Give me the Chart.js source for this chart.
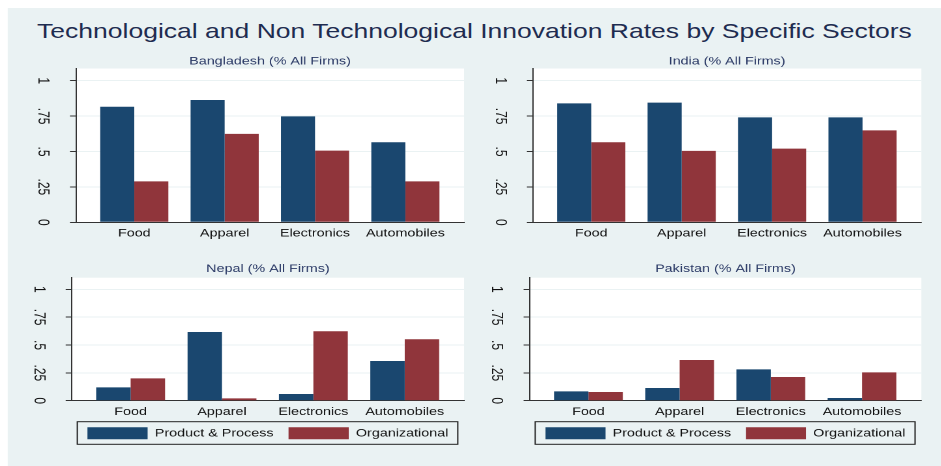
<!DOCTYPE html>
<html>
<head>
<meta charset="utf-8">
<script src="https://cdn.jsdelivr.net/npm/chart.js@4.4.1/dist/chart.umd.min.js"></script>
<style>
  html, body { margin: 0; padding: 0; background: #ffffff; width: 941px; height: 466px; overflow: hidden; }
  #wrap { position: absolute; left: 0; top: 0; width: 723.85px; height: 466px; transform: scaleX(1.3); transform-origin: 0 0; }
  #bg { position: absolute; left: 6.15px; top: 8px; width: 717.7px; height: 458px; background: #eaf2f3; }
  #title { position: absolute; left: 6.15px; top: 20.7px; width: 717.7px; text-align: center; white-space: nowrap;
           font: 20.4px/20px 'Liberation Sans', Arial, sans-serif; color: #1e2c50; }
  .panel { position: absolute; }
</style>
</head>
<body>
<div id="wrap">
  <div id="bg"></div>
  <div id="title">Technological and Non Technological Innovation Rates by Specific Sectors</div>
  <div class="panel" id="p0"><canvas id="c0"></canvas></div>
  <div class="panel" id="p1"><canvas id="c1"></canvas></div>
  <div class="panel" id="p2"><canvas id="c2"></canvas></div>
  <div class="panel" id="p3"><canvas id="c3"></canvas></div>
</div>
<script>
// ---------- data ----------
const categories = ['Food', 'Apparel', 'Electronics', 'Automobiles'];
const seriesNames = ['Product & Process', 'Organizational'];
const panelTitles = ['Bangladesh (% All Firms)', 'India (% All Firms)', 'Nepal (% All Firms)', 'Pakistan (% All Firms)'];

const bangladeshProduct = [0.816, 0.864, 0.748, 0.565];
const bangladeshOrg     = [0.289, 0.624, 0.506, 0.289];
const indiaProduct      = [0.840, 0.845, 0.741, 0.741];
const indiaOrg          = [0.565, 0.504, 0.520, 0.649];
const nepalProduct      = [0.120, 0.617, 0.060, 0.356];
const nepalOrg          = [0.200, 0.021, 0.623, 0.551];
const pakistanProduct   = [0.084, 0.114, 0.281, 0.024];
const pakistanOrg       = [0.078, 0.365, 0.213, 0.254];

const yTickValues = [0, 0.25, 0.5, 0.75, 1];
const yTickLabels = ['0', '.25', '.5', '.75', '1'];

// ---------- layout (page px; horizontal stretch S) ----------
const S = 1.3;
const NAVY = '#1a476f', MAROON = '#90353b', AXIS = '#333333';
const LEG_PAD = 11.5;
Chart.defaults.font.family = "'Liberation Sans', Arial, sans-serif";

const panels = [
  { id: 0, box: [8, 48, 470, 250],  plotL: 76,    plotR: 463,   yMax: 1.086, tPad: [6.9, 0.4], xH: 27.7, legend: false,
    title: panelTitles[0], a: bangladeshProduct, b: bangladeshOrg },
  { id: 1, box: [470, 48, 941, 250], plotL: 532.3, plotR: 920.7, yMax: 1.086, tPad: [6.9, 0.4], xH: 27.7, legend: false,
    title: panelTitles[1], a: indiaProduct, b: indiaOrg },
  { id: 2, box: [8, 253, 470, 466],  plotL: 71.7,  plotR: 463,   yMax: 1.104, tPad: [9.4, 2.1], xH: 15.1, legend: true,
    title: panelTitles[2], a: nepalProduct, b: nepalOrg },
  { id: 3, box: [470, 253, 941, 466], plotL: 529,  plotR: 920.7, yMax: 1.104, tPad: [9.4, 2.1], xH: 15.1, legend: true,
    title: panelTitles[3], a: pakistanProduct, b: pakistanOrg }
];

const plotBg = {
  id: 'plotBg',
  beforeDraw(chart) {
    const { ctx, chartArea: ca } = chart;
    ctx.save();
    ctx.fillStyle = '#ffffff';
    ctx.fillRect(ca.left, ca.top, ca.right - ca.left, ca.bottom - ca.top);
    ctx.restore();
  }
};

const legendFrame = {
  id: 'legendFrame',
  afterDraw(chart) {
    const lg = chart.legend;
    if (!lg || !lg.options.display) return;
    const ca = chart.chartArea, ctx = chart.ctx;
    const x0 = ca.left + 4.3, x1 = ca.right - 4.85;
    const y0 = lg.top + lg.options.labels.padding - 5.6;
    ctx.save();
    ctx.strokeStyle = '#222';
    ctx.lineWidth = 1;
    ctx.strokeRect(x0, y0, x1 - x0, 22.6);
    ctx.restore();
  }
};

panels.forEach(p => {
  const div = document.getElementById('p' + p.id);
  div.style.left = (p.box[0] / S) + 'px';
  div.style.top = p.box[1] + 'px';
  div.style.width = ((p.box[2] - p.box[0]) / S) + 'px';
  div.style.height = (p.box[3] - p.box[1]) + 'px';

  new Chart(document.getElementById('c' + p.id), {
    type: 'bar',
    data: {
      datasets: [
        { label: seriesNames[0], data: p.a.map((v, i) => ({ x: i, y: v })), backgroundColor: NAVY, borderWidth: 0 },
        { label: seriesNames[1], data: p.b.map((v, i) => ({ x: i, y: v })), backgroundColor: MAROON, borderWidth: 0 }
      ]
    },
    options: {
      responsive: true,
      maintainAspectRatio: false,
      animation: false,
      devicePixelRatio: 2,
      layout: { padding: { left: 0, top: 0, right: (p.box[2] - p.plotR) / S, bottom: p.legend ? 16.7 : 0 } },
      datasets: { bar: { categoryPercentage: 0.754, barPercentage: 1.0 } },
      plugins: {
        title: { display: true, text: p.title, fullSize: false, color: '#2b3a66',
                 font: { size: 11, weight: 'normal', lineHeight: 1.2 },
                 padding: { top: p.tPad[0], bottom: p.tPad[1] } },
        legend: { display: p.legend, position: 'bottom', fullSize: false,
                  labels: { boxWidth: 60 / S, boxHeight: 12, padding: LEG_PAD, color: '#111', font: { size: 11 } } },
        tooltip: { enabled: false }
      },
      scales: {
        x: {
          type: 'linear', min: -0.645, max: 3.65, offset: false,
          grid: { display: false, drawTicks: false },
          border: { display: true, color: AXIS, width: 1 },
          ticks: { padding: 4.5, color: '#111', font: { size: 11 }, autoSkip: false, maxRotation: 0, minRotation: 0,
                   callback: v => categories[v] },
          afterBuildTicks: sc => { sc.ticks = categories.map((c, i) => ({ value: i })); },
          afterFit: sc => {
            sc.height = p.xH;
            // let the category labels extend below the (short) axis box instead of being clipped
            sc._computeLabelArea = () => undefined;
          }
        },
        y: {
          min: 0, max: p.yMax,
          grid: { color: '#eaf2f3', lineWidth: 1, drawTicks: true, tickLength: 6 / S, tickColor: AXIS, tickWidth: 1 },
          border: { display: true, color: AXIS, width: 1 },
          ticks: { padding: 12.4, crossAlign: 'center', minRotation: -90, maxRotation: -90, color: '#111',
                   font: { size: 12, lineHeight: 1 },
                   callback: v => { const k = yTickValues.indexOf(v); return k >= 0 ? yTickLabels[k] : ''; } },
          afterBuildTicks: sc => { sc.ticks = yTickValues.map(v => ({ value: v })); },
          afterFit: sc => { sc.width = (p.plotL - p.box[0]) / S; }
        }
      }
    },
    plugins: [plotBg, legendFrame]
  });
});
</script>
</body>
</html>
